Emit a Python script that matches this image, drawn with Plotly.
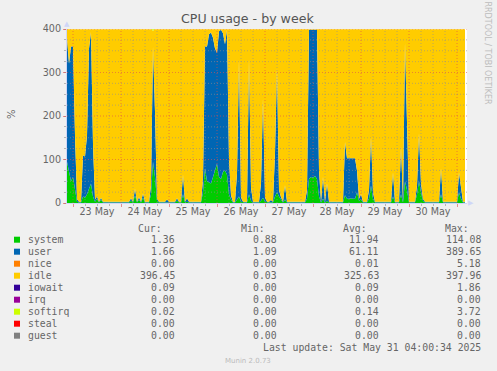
import pandas as pd
import plotly.graph_objects as go

# ---------------- data (hourly samples) ----------------
start_time = "2025-05-22 21:00"
n_points = 200

system = [
    95, 70, 50, 60, 25, 3, 1.3, 1.3, 15, 12,
    20, 35, 45, 15, 3, 10, 1.3, 8, 1.3, 1.3,
    1.3, 1.3, 1.3, 1.3, 1.3, 1.3, 1.3, 1.3, 1.3, 1.3,
    1.3, 1.3, 6, 1.3, 18, 1.3, 8, 1.3, 12, 1.3,
    1.3, 1.3, 20, 95, 60, 5, 1.3, 1.3, 1.3, 1.3,
    2, 1.3, 1.3, 1.3, 1.3, 6, 1.3, 1.3, 20, 1.3,
    3, 1.3, 1.3, 1.3, 1.3, 1.3, 1.3, 1.3, 25, 80,
    50, 48, 45, 60, 75, 90, 60, 55, 72, 75,
    65, 20, 8, 1.3, 1.3, 8, 15, 3, 1.3, 1.3,
    1.3, 20, 5, 1.3, 1.3, 1.3, 1.3, 5, 12, 3,
    1.3, 1.3, 2, 1.3, 15, 25, 15, 8, 1.3, 8,
    1.3, 1.3, 1.3, 1.3, 1.3, 1.3, 1.3, 1.3, 1.3, 1.3,
    10, 55, 60, 58, 62, 55, 15, 1.3, 10, 1.3,
    5, 1.3, 1.3, 1.3, 1.3, 1.3, 1.3, 1.3, 1.3, 18,
    10, 10, 11, 10, 10, 25, 5, 8, 1.3, 1.3,
    1.3, 10, 40, 10, 1.3, 1.3, 1.3, 1.3, 1.3, 1.3,
    1.3, 1.3, 1.3, 15, 1.3, 1.3, 1.3, 20, 1.3, 50,
    30, 1.3, 1.3, 1.3, 1.3, 20, 50, 25, 5, 1.3,
    1.3, 1.3, 1.3, 1.3, 1.3, 1.3, 1.3, 20, 1.3, 1.3,
    1.3, 1.3, 1.3, 1.3, 1.3, 1.3, 25, 10, 1.3, 1.36,
]

user = [
    285, 250, 310, 300, 130, 6, 1.6, 1.6, 95, 95,
    135, 320, 348, 120, 5, 5, 1.6, 4, 1.6, 1.6,
    1.6, 1.6, 1.6, 1.6, 1.6, 1.6, 1.6, 1.6, 1.6, 1.6,
    1.6, 1.6, 5, 1.6, 15, 1.6, 5, 1.6, 10, 1.6,
    1.6, 1.6, 20, 265, 150, 5, 1.6, 1.6, 1.6, 1.6,
    6, 1.6, 1.6, 1.6, 1.6, 5, 1.6, 1.6, 45, 1.6,
    8, 1.6, 1.6, 1.6, 1.6, 1.6, 1.6, 1.6, 30, 280,
    310, 340, 347, 320, 280, 255, 335, 343, 318, 290,
    333, 80, 10, 1.6, 1.6, 60, 315, 10, 1.6, 1.6,
    1.6, 310, 30, 1.6, 1.6, 1.6, 1.6, 40, 228, 10,
    1.6, 1.6, 5, 1.6, 100, 285, 15, 5, 1.6, 33,
    1.6, 1.6, 1.6, 1.6, 1.6, 1.6, 1.6, 1.6, 1.6, 1.6,
    20, 343, 338, 340, 336, 343, 60, 1.6, 50, 1.6,
    40, 1.6, 1.6, 1.6, 1.6, 1.6, 1.6, 1.6, 1.6, 122,
    93, 93, 92, 93, 93, 50, 5, 12, 1.6, 1.6,
    1.6, 20, 112, 15, 1.6, 1.6, 1.6, 1.6, 1.6, 1.6,
    1.6, 1.6, 1.6, 55, 1.6, 1.6, 1.6, 110, 1.6, 318,
    180, 1.6, 1.6, 1.6, 1.6, 20, 110, 20, 5, 1.6,
    1.6, 1.6, 1.6, 1.6, 1.6, 1.6, 1.6, 60, 1.6, 1.6,
    1.6, 1.6, 1.6, 1.6, 1.6, 1.6, 45, 20, 1.6, 1.66,
]

nice = [
    0, 0, 0, 0, 0, 0, 0, 0, 0, 0, 0, 0, 0, 0, 0, 0, 0, 0, 0, 0,
    0, 0, 0, 0, 0, 0, 0, 0, 0, 0, 0, 0, 0, 0, 0, 0, 0, 0, 0, 0,
    0, 0, 0, 0, 0, 0, 0, 0, 0, 0, 0, 0, 0, 0, 0, 0, 0, 0, 0, 0,
    0, 0, 0, 0, 0, 0, 0, 0, 0, 0, 0, 0, 0, 0, 0, 5.2, 0, 0, 0, 0,
    0, 0, 0, 0, 0, 0, 0, 0, 0, 0, 0, 0, 0, 0, 0, 0, 0, 0, 0, 0,
    0, 0, 0, 0, 0, 0, 0, 0, 0, 0, 0, 0, 0, 0, 0, 0, 0, 0, 0, 0,
    0, 0, 0, 0, 0, 0, 0, 0, 0, 0, 0, 0, 0, 0, 0, 0, 0, 0, 0, 0,
    0, 0, 0, 0, 0, 0, 0, 0, 0, 0, 0, 0, 0, 0, 0, 0, 0, 0, 0, 0,
    0, 0, 0, 0, 0, 0, 0, 0, 0, 0, 0, 0, 0, 0, 0, 0, 0, 0, 0, 0,
    0, 0, 0, 0, 0, 0, 0, 0, 0, 0, 0, 0, 0, 0, 0, 0, 0, 0, 0, 0,
]

idle = [
    19.3, 79.3, 39.3, 39.3, 244.3, 390.3, 396.4, 396.4, 289.3, 292.3,
    244.3, 44.3, 6.3, 264.3, 391.3, 384.3, 396.4, 387.3, 396.4, 396.4,
    396.4, 396.4, 396.4, 396.4, 396.4, 396.4, 396.4, 396.4, 396.4, 396.4,
    396.4, 396.4, 388.3, 396.4, 366.3, 396.4, 386.3, 396.4, 377.3, 396.4,
    396.4, 396.4, 359.3, 35.7, 189.3, 389.3, 396.4, 396.4, 396.4, 396.4,
    391.3, 396.4, 396.4, 396.4, 396.4, 388.3, 396.4, 396.4, 334.3, 396.4,
    388.3, 396.4, 396.4, 396.4, 396.4, 396.4, 396.4, 396.4, 344.3, 39.3,
    39.3, 11.3, 7.3, 19.3, 44.3, 49.1, 4.3, 1.3, 9.3, 34.3,
    1.3, 299.3, 381.3, 396.4, 396.4, 331.3, 69.3, 386.3, 396.4, 396.4,
    396.4, 69.3, 364.3, 396.4, 396.4, 396.4, 396.4, 354.3, 159.3, 386.3,
    396.4, 396.4, 392.3, 396.4, 284.3, 89.3, 369.3, 386.3, 396.4, 358.3,
    396.4, 396.4, 396.4, 396.4, 396.4, 396.4, 396.4, 396.4, 396.4, 396.4,
    369.3, 1.3, 1.3, 1.3, 1.3, 1.3, 324.3, 396.4, 339.3, 396.4,
    354.3, 396.4, 396.4, 396.4, 396.4, 396.4, 396.4, 396.4, 396.4, 259.3,
    296.3, 296.3, 296.3, 296.3, 296.3, 324.3, 389.3, 379.3, 396.4, 396.4,
    396.4, 369.3, 247.3, 374.3, 396.4, 396.4, 396.4, 396.4, 396.4, 396.4,
    396.4, 396.4, 396.4, 329.3, 396.4, 396.4, 396.4, 269.3, 396.4, 31.3,
    189.3, 396.4, 396.4, 396.4, 396.4, 359.3, 239.3, 354.3, 389.3, 396.4,
    396.4, 396.4, 396.4, 396.4, 396.4, 396.4, 396.4, 319.3, 396.4, 396.4,
    396.4, 396.4, 396.4, 396.4, 396.4, 396.4, 329.3, 369.3, 396.4, 396.45,
]

iowait = [
    0.09, 0.09, 0.09, 0.09, 0.09, 0.09, 0.09, 0.09, 0.09, 0.09, 0.09, 0.09, 0.09, 0.09, 0.09, 0.09, 0.09, 0.09, 0.09, 0.09,
    0.09, 0.09, 0.09, 0.09, 0.09, 0.09, 0.09, 0.09, 0.09, 0.09, 0.09, 0.09, 0.09, 0.09, 0.09, 0.09, 0.09, 0.09, 0.09, 0.09,
    0.09, 0.09, 0.09, 0.09, 0.09, 0.09, 0.09, 0.09, 0.09, 0.09, 0.09, 0.09, 0.09, 0.09, 0.09, 0.09, 0.09, 0.09, 0.09, 0.09,
    0.09, 0.09, 0.09, 0.09, 0.09, 0.09, 0.09, 0.09, 0.09, 0.09, 0.09, 0.09, 0.09, 0.09, 0.09, 0.09, 0.09, 0.09, 0.09, 0.09,
    0.09, 0.09, 0.09, 0.09, 0.09, 0.09, 0.09, 0.09, 0.09, 0.09, 0.09, 0.09, 0.09, 0.09, 0.09, 0.09, 0.09, 0.09, 0.09, 0.09,
    0.09, 0.09, 0.09, 0.09, 0.09, 0.09, 0.09, 0.09, 0.09, 0.09, 0.09, 0.09, 0.09, 0.09, 0.09, 0.09, 0.09, 0.09, 0.09, 0.09,
    0.09, 0.09, 0.09, 0.09, 0.09, 0.09, 0.09, 0.09, 0.09, 0.09, 0.09, 0.09, 0.09, 0.09, 0.09, 0.09, 0.09, 0.09, 0.09, 0.09,
    0.09, 0.09, 0.09, 0.09, 0.09, 0.09, 0.09, 0.09, 0.09, 0.09, 0.09, 0.09, 0.09, 0.09, 0.09, 0.09, 0.09, 0.09, 0.09, 0.09,
    0.09, 0.09, 0.09, 0.09, 0.09, 0.09, 0.09, 0.09, 0.09, 0.09, 0.09, 0.09, 0.09, 0.09, 0.09, 0.09, 0.09, 0.09, 0.09, 0.09,
    0.09, 0.09, 0.09, 0.09, 0.09, 0.09, 0.09, 0.09, 0.09, 0.09, 0.09, 0.09, 0.09, 0.09, 0.09, 0.09, 0.09, 0.09, 0.09, 0.09,
]

softirq = [
    0.1, 0.1, 0.1, 0.1, 0.1, 0.1, 0.1, 0.1, 0.1, 0.1, 0.1, 0.1, 0.1, 0.1, 0.1, 0.1, 0.1, 0.1, 0.1, 0.1,
    0.1, 0.1, 0.1, 0.1, 0.1, 0.1, 0.1, 0.1, 0.1, 0.1, 0.1, 0.1, 0.1, 0.1, 0.1, 0.1, 0.1, 0.1, 0.1, 0.1,
    0.1, 0.1, 0.1, 3.7, 0.1, 0.1, 0.1, 0.1, 0.1, 0.1, 0.1, 0.1, 0.1, 0.1, 0.1, 0.1, 0.1, 0.1, 0.1, 0.1,
    0.1, 0.1, 0.1, 0.1, 0.1, 0.1, 0.1, 0.1, 0.1, 0.1, 0.1, 0.1, 0.1, 0.1, 0.1, 0.1, 0.1, 0.1, 0.1, 0.1,
    0.1, 0.1, 0.1, 0.1, 0.1, 0.1, 0.1, 0.1, 0.1, 0.1, 0.1, 0.1, 0.1, 0.1, 0.1, 0.1, 0.1, 0.1, 0.1, 0.1,
    0.1, 0.1, 0.1, 0.1, 0.1, 0.1, 0.1, 0.1, 0.1, 0.1, 0.1, 0.1, 0.1, 0.1, 0.1, 0.1, 0.1, 0.1, 0.1, 0.1,
    0.1, 0.1, 0.1, 0.1, 0.1, 0.1, 0.1, 0.1, 0.1, 0.1, 0.1, 0.1, 0.1, 0.1, 0.1, 0.1, 0.1, 0.1, 0.1, 0.1,
    0.1, 0.1, 0.1, 0.1, 0.1, 0.1, 0.1, 0.1, 0.1, 0.1, 0.1, 0.1, 0.1, 0.1, 0.1, 0.1, 0.1, 0.1, 0.1, 0.1,
    0.1, 0.1, 0.1, 0.1, 0.1, 0.1, 0.1, 0.1, 0.1, 0.1, 0.1, 0.1, 0.1, 0.1, 0.1, 0.1, 0.1, 0.1, 0.1, 0.1,
    0.1, 0.1, 0.1, 0.1, 0.1, 0.1, 0.1, 0.1, 0.1, 0.1, 0.1, 0.1, 0.1, 0.1, 0.1, 0.1, 0.1, 0.1, 0.1, 0.02,
]

# legend table
series_names = ["system", "user", "nice", "idle", "iowait", "irq", "softirq", "steal", "guest"]
series_colors = ["#00CC00", "#0066B3", "#FF8000", "#FFCC00", "#330099",
                 "#990099", "#CCFF00", "#FF0000", "#808080"]
cur_vals = [1.36, 1.66, 0.00, 396.45, 0.09, 0.00, 0.02, 0.00, 0.00]
min_vals = [0.88, 1.09, 0.00, 0.03, 0.00, 0.00, 0.00, 0.00, 0.00]
avg_vals = [11.94, 61.11, 0.01, 325.63, 0.09, 0.00, 0.14, 0.00, 0.00]
max_vals = [114.08, 389.65, 5.18, 397.96, 1.86, 0.00, 3.72, 0.00, 0.00]

y_ticks = [0, 100, 200, 300, 400]
x_range = ["2025-05-22 21:00", "2025-05-31 05:00"]
title_text = "CPU usage - by week"
y_title = "%"
last_update = "Last update: Sat May 31 04:00:34 2025"
footer = "Munin 2.0.73"
side_text = "RRDTOOL / TOBI OETIKER"

# ---------------- figure ----------------
times = pd.date_range(start_time, periods=n_points, freq="h")
plotted = {"system": system, "user": user, "nice": nice, "idle": idle,
           "iowait": iowait, "softirq": softirq}

fig = go.Figure()
for name, color in zip(series_names, series_colors):
    if name not in plotted:
        continue
    fig.add_trace(go.Scatter(
        x=times, y=plotted[name], name=name, mode="lines",
        stackgroup="cpu", line=dict(width=0, color=color),
        fillcolor=color, showlegend=False, hoverinfo="skip"))

W, H = 497, 371
L, R, T, B = 67, 467, 29, 203
FONT = "DejaVu Sans"
MONO = "DejaVu Sans Mono"
TXT = "#666666"
GRID = "rgba(143,143,143,0.6)"
MGRID = "rgba(222,79,79,0.6)"
AXIS = "#CFD6F8"
DASH = "1px,2px"


def px(x):
    return (x - L) / (R - L)


def py(y):
    return (B - y) / (B - T)


fig.update_layout(
    width=W, height=H,
    margin=dict(l=L, r=W - R, t=T, b=H - B, pad=0),
    paper_bgcolor="#F0F0F0", plot_bgcolor="#FFFFFF",
    showlegend=False,
    font=dict(family=FONT, size=10, color=TXT),
)

fig.update_xaxes(
    type="date", range=x_range,
    tick0="2025-05-23", dtick=86400000,
    tickformat="%d %b", ticklabelmode="period",
    showgrid=False,
    ticks="outside", ticklen=3, tickcolor=MGRID,
    ticklabelstandoff=-4,
    tickfont=dict(family=FONT, size=9.6, color=TXT),
    minor=dict(dtick=6 * 3600000, showgrid=False, ticks="outside",
               ticklen=2, tickcolor=GRID),
    showline=True, linecolor=AXIS, linewidth=1,
    layer="above traces", zeroline=False,
)
fig.update_yaxes(
    range=[0, 400], tickvals=y_ticks,
    showgrid=False,
    ticks="outside", ticklen=3, tickcolor=MGRID,
    tickfont=dict(family=FONT, size=9.6, color=TXT),
    minor=dict(dtick=25, showgrid=False, ticks="outside",
               ticklen=2, tickcolor=GRID),
    showline=True, linecolor=AXIS, linewidth=1,
    layer="above traces", zeroline=False,
)

shapes = []
# grid drawn above the filled areas, as rrdtool does
for t in pd.date_range("2025-05-23", "2025-05-31", freq="6h"):
    major = (t.hour == 0)
    shapes.append(dict(type="line", xref="x", yref="paper", x0=t, x1=t, y0=0, y1=1,
                       layer="above",
                       line=dict(color=MGRID if major else GRID, width=1, dash=DASH)))
for v in range(25, 401, 25):
    major = (v % 100 == 0)
    shapes.append(dict(type="line", xref="paper", yref="y", x0=0, x1=1, y0=v, y1=v,
                       layer="above",
                       line=dict(color=MGRID if major else GRID, width=1, dash=DASH)))

ann = []
ann.append(dict(x=px(247.7), y=py(19), xref="paper", yref="paper",
                text=title_text, showarrow=False, xanchor="center", yanchor="middle",
                font=dict(family=FONT, size=12.6, color="#555555")))
ann.append(dict(x=px(11), y=py(114), xref="paper", yref="paper",
                text=y_title, showarrow=False, textangle=-90,
                xanchor="center", yanchor="middle",
                font=dict(family=FONT, size=10, color=TXT)))
ann.append(dict(x=px(487.5), y=py(53), xref="paper", yref="paper",
                text=side_text, showarrow=False, textangle=90,
                xanchor="center", yanchor="middle",
                font=dict(family=FONT, size=8, color="#BDBDBD")))
ann.append(dict(x=px(66.5), y=py(24), xref="paper", yref="paper",
                text="▲", showarrow=False, xanchor="center", yanchor="middle",
                font=dict(family=FONT, size=7, color=AXIS)))
ann.append(dict(x=px(471), y=py(203), xref="paper", yref="paper",
                text="▶", showarrow=False, xanchor="center", yanchor="middle",
                font=dict(family=FONT, size=7, color=AXIS)))

col_hdr_right = [163.3, 265.7, 367.7, 470.0]
col_val_right = [175.7, 278.3, 380.0, 482.3]
for hdr, xr in zip(["Cur:", "Min:", "Avg:", "Max:"], col_hdr_right):
    ann.append(dict(x=px(xr), y=py(228.3), xref="paper", yref="paper",
                    text=hdr, showarrow=False, xanchor="right", yanchor="middle",
                    borderpad=0, font=dict(family=MONO, size=9.8, color=TXT)))

for k, name in enumerate(series_names):
    yc = 239.7 + 12 * k
    shapes.append(dict(type="rect", xref="paper", yref="paper",
                       x0=px(14), x1=px(20), y0=py(yc + 3), y1=py(yc - 3),
                       fillcolor=series_colors[k], line=dict(width=0)))
    ann.append(dict(x=px(26.5), y=py(yc), xref="paper", yref="paper",
                    text=name, showarrow=False, xanchor="left", yanchor="middle",
                    borderpad=0, font=dict(family=MONO, size=9.8, color=TXT)))
    for vals, xr in zip([cur_vals, min_vals, avg_vals, max_vals], col_val_right):
        ann.append(dict(x=px(xr), y=py(yc), xref="paper", yref="paper",
                        text=f"{vals[k]:.2f}", showarrow=False,
                        xanchor="right", yanchor="middle", borderpad=0,
                        font=dict(family=MONO, size=9.8, color=TXT)))

ann.append(dict(x=px(482.3), y=py(347.7), xref="paper", yref="paper",
                text=last_update, showarrow=False, xanchor="right", yanchor="middle",
                borderpad=0, font=dict(family=MONO, size=9.8, color=TXT)))
ann.append(dict(x=px(247.7), y=py(360.5), xref="paper", yref="paper",
                text=footer, showarrow=False, xanchor="center", yanchor="middle",
                borderpad=0, font=dict(family=FONT, size=7, color="#BBBBBB")))

fig.update_layout(annotations=ann, shapes=shapes)
fig.write_html(
    "out.html",
    config={"displayModeBar": False},
    post_script="document.body.style.margin='0';document.body.style.overflow='hidden';",
)
